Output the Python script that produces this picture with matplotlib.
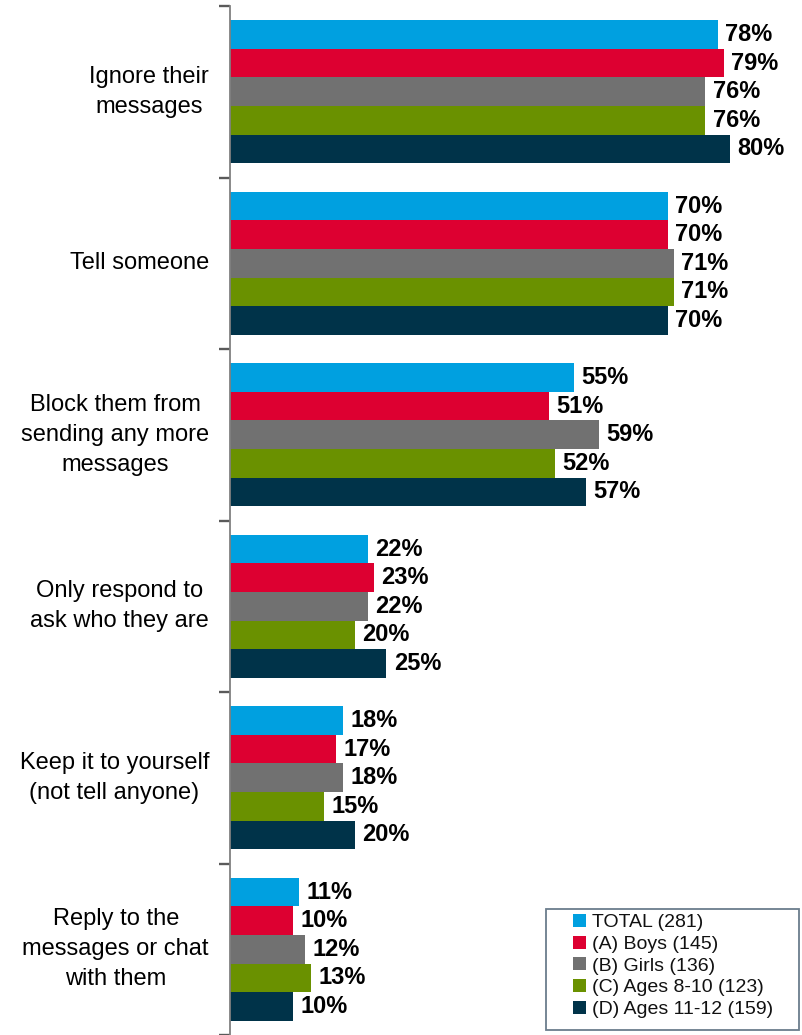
import matplotlib
matplotlib.use("Agg")
import matplotlib.pyplot as plt
from matplotlib.patches import Rectangle
import numpy as np

plt.rcParams['font.family'] = ['Liberation Sans', 'DejaVu Sans']

categories = [
    "Ignore their\nmessages",
    "Tell someone",
    "Block them from\nsending any more\nmessages",
    "Only respond to\nask who they are",
    "Keep it to yourself\n(not tell anyone)",
    "Reply to the\nmessages or chat\nwith them",
]
series_names = [
    "TOTAL (281)",
    "(A) Boys (145)",
    "(B) Girls (136)",
    "(C) Ages 8-10 (123)",
    "(D) Ages 11-12 (159)",
]
values = {
    "TOTAL (281)":          [78, 70, 55, 22, 18, 11],
    "(A) Boys (145)":       [79, 70, 51, 23, 17, 10],
    "(B) Girls (136)":      [76, 71, 59, 22, 18, 12],
    "(C) Ages 8-10 (123)":  [76, 71, 52, 20, 15, 13],
    "(D) Ages 11-12 (159)": [80, 70, 57, 25, 20, 10],
}
colors = ["#00A0E0", "#DD0031", "#717171", "#6A9100", "#003349"]

W, H = 802, 1035
fig = plt.figure(figsize=(W / 100, H / 100), dpi=100)

# layout in pixels
ax_left, ax_top = 230, 6
px_per_pct = 6.25
px_per_unit = 28.76
first_bar_top = 20

ax = fig.add_axes([ax_left / W, 0, (W - ax_left) / W, (H - ax_top) / H])

n_series = len(series_names)
slot = n_series + 1
for j, name in enumerate(series_names):
    ys = np.arange(len(categories)) * slot + j + 0.5
    vals = values[name]
    ax.barh(ys, vals, height=1.0, color=colors[j], label=name)
    for y, v in zip(ys, vals):
        ax.text(v + 1.2, y, f"{v}%", va="center", ha="left",
                fontsize=17, fontweight="bold", color="black")

ax.set_xlim(0, (W - ax_left) / px_per_pct)
ax.set_ylim((H - first_bar_top) / px_per_unit,
            (ax_top - first_bar_top) / px_per_unit)

# category labels, right-aligned against the axis, lines centred
for i, cat in enumerate(categories):
    yc = i * slot + n_series / 2
    ax.text(-21 / px_per_pct, yc, cat, ha="right", va="center",
            multialignment="center", fontsize=17, linespacing=1.48,
            color="black")

# group separator ticks on the y axis
ax.set_yticks(np.arange(len(categories) + 1) * slot - 0.5)
ax.set_yticklabels([])
ax.tick_params(axis="y", direction="out", length=8, width=1.7, color="#5A5A5A")
ax.set_xticks([])
for s in ["top", "right", "bottom"]:
    ax.spines[s].set_visible(False)
ax.spines["left"].set_color("#808080")
ax.spines["left"].set_linewidth(1.3)

# legend entries inside a separately drawn box
leg = ax.legend(loc="upper left", bbox_to_anchor=(573 / W, 1 - 914 / H),
                bbox_transform=fig.transFigure, fontsize=14, frameon=False,
                handlelength=0.66, handleheight=0.66, handletextpad=0.3,
                labelspacing=0.22, borderpad=0.0, borderaxespad=0.0)
for t in leg.get_texts():
    t.set_color("#111111")
fig.add_artist(Rectangle((546 / W, 1 - 1030 / H), (799 - 546) / W,
                         (1030 - 909) / H, transform=fig.transFigure,
                         fill=False, edgecolor="#6B7D8C", linewidth=1.3))

fig.savefig("out.png", dpi=100)
